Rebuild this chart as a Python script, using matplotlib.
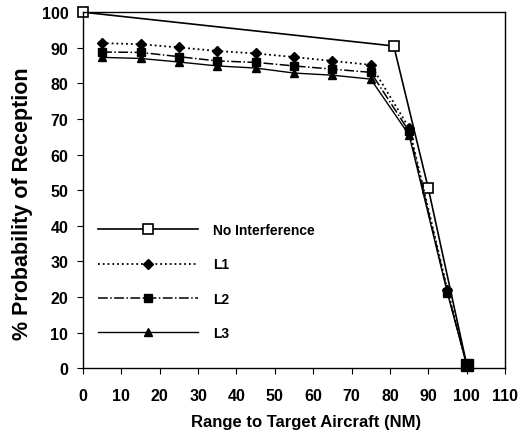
import matplotlib
matplotlib.use("Agg")
import matplotlib.pyplot as plt

plt.rcParams['font.family'] = ['Liberation Sans', 'DejaVu Sans']

x_none = [0, 81, 90, 100]
y_none = [100, 90.5, 50.5, 1]

x_l = [5, 15, 25, 35, 45, 55, 65, 75, 85, 95, 100]
y_l1 = [91.3, 91.0, 90.1, 89.1, 88.4, 87.4, 86.3, 85.2, 67.5, 22.0, 1]
y_l2 = [88.8, 88.7, 87.5, 86.3, 85.9, 84.9, 84.0, 83.1, 66.5, 21.5, 1]
y_l3 = [87.3, 87.0, 86.0, 84.9, 84.3, 82.9, 82.3, 81.2, 65.5, 21.0, 1]

xticks = list(range(0, 111, 10))
yticks = list(range(0, 101, 10))

fig = plt.figure(figsize=(5.25, 4.39), dpi=100)
ax = fig.add_axes([0.158, 0.159, 0.804, 0.811])

ax.plot(x_none, y_none, '-', color='black', lw=1.2, marker='s', ms=7.5,
        mfc='white', mec='black', mew=1.2, label='No Interference', clip_on=False)
ax.plot(x_l, y_l1, ':', color='black', lw=1.3, marker='D', ms=5.5,
        mfc='black', mec='black', label='L1', clip_on=False)
ax.plot(x_l, y_l2, '-.', color='black', lw=1.1, marker='s', ms=5.5,
        mfc='black', mec='black', label='L2', clip_on=False)
ax.plot(x_l, y_l3, '-', color='black', lw=1.0, marker='^', ms=6,
        mfc='black', mec='black', label='L3', clip_on=False)
ax.plot([x_l[-1]], [y_l3[-1]], 's', color='black', ms=8, clip_on=False)

ax.set_xlim(0, 110)
ax.set_ylim(0, 100)
ax.set_xticks(xticks)
ax.set_yticks(yticks)
ax.tick_params(direction='out', length=4.5, width=0.8, labelsize=11.5)
ax.tick_params(axis='x', pad=10)
ax.tick_params(axis='y', pad=6)
for lab in ax.get_xticklabels() + ax.get_yticklabels():
    lab.set_fontweight('bold')
for s in ax.spines.values():
    s.set_linewidth(1.0)

ax.set_xlabel('Range to Target Aircraft (NM)', fontsize=12, fontweight='bold', labelpad=5)
ax.set_ylabel('% Probability of Reception', fontsize=15.5, fontweight='bold', labelpad=4)
ax.xaxis.set_label_coords(0.528, -0.13)
ax.yaxis.set_label_coords(-0.119, 0.466)

leg = ax.legend(loc='lower left', bbox_to_anchor=(0.005, 0.045), frameon=False,
                handlelength=7.2, labelspacing=1.45, handletextpad=1.1,
                prop={'size': 10, 'weight': 'bold'})

fig.savefig('out.png', dpi=100)
